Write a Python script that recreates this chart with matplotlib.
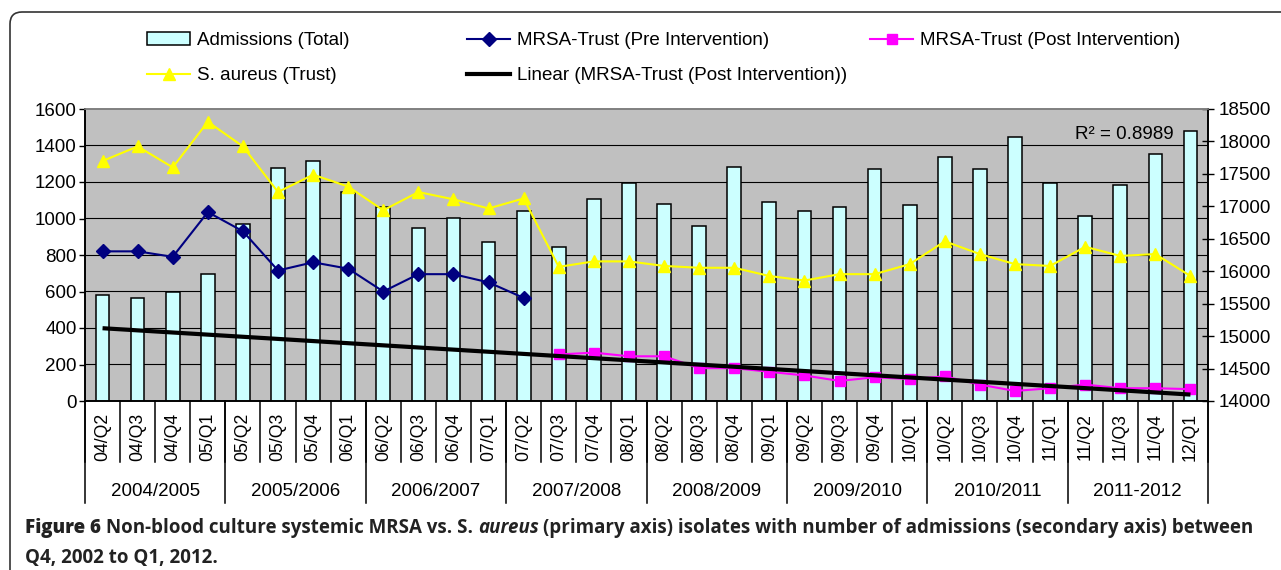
import numpy as np
import matplotlib
matplotlib.use("Agg")
import matplotlib.pyplot as plt
from matplotlib.lines import Line2D
from matplotlib.patches import Patch, FancyBboxPatch

# data
quarters = ["04/Q2", "04/Q3", "04/Q4", "05/Q1", "05/Q2", "05/Q3", "05/Q4", "06/Q1",
            "06/Q2", "06/Q3", "06/Q4", "07/Q1", "07/Q2", "07/Q3", "07/Q4", "08/Q1",
            "08/Q2", "08/Q3", "08/Q4", "09/Q1", "09/Q2", "09/Q3", "09/Q4", "10/Q1",
            "10/Q2", "10/Q3", "10/Q4", "11/Q1", "11/Q2", "11/Q3", "11/Q4", "12/Q1"]
years = ["2004/2005", "2005/2006", "2006/2007", "2007/2008",
         "2008/2009", "2009/2010", "2010/2011", "2011-2012"]

admissions = [15630, 15585, 15685, 15950, 16725, 17595, 17700, 17225,
              16985, 16670, 16825, 16455, 16935, 16380, 17120, 17355,
              17040, 16695, 17600, 17065, 16935, 16985, 17570, 17015,
              17755, 17570, 18075, 17355, 16855, 17335, 17810, 18155]
s_aureus = [1315, 1395, 1280, 1530, 1395, 1145, 1240, 1175,
            1045, 1145, 1105, 1055, 1110, 735, 765, 765,
            740, 730, 730, 685, 660, 695, 695, 750,
            875, 805, 750, 740, 845, 795, 805, 685]
mrsa_pre = [820, 820, 790, 1035, 930, 715, 760, 725, 600, 695, 695, 650, 565]
mrsa_post = [255, 265, 245, 245, 180, 180, 160, 140, 110, 130,
             120, 135, 90, 55, 70, 90, 70, 70, 65]
r2_text = "R² = 0.8989"

plt.rcParams['font.family'] = ['Liberation Sans', 'DejaVu Sans']

W, H = 1281, 570
fig = plt.figure(figsize=(W / 100, H / 100), dpi=100)

x = np.arange(len(quarters))
pre = np.full(len(quarters), np.nan)
pre[:len(mrsa_pre)] = mrsa_pre
post = np.full(len(quarters), np.nan)
post[len(quarters) - len(mrsa_post):] = mrsa_post
xp = x[len(quarters) - len(mrsa_post):]
coef = np.polyfit(xp, mrsa_post, 1)
trend = np.polyval(coef, x)

ax = fig.add_axes([85 / W, 1 - 401 / H, 1123 / W, 292 / H])
ax2 = ax.twinx()
ax.set_zorder(3)
ax.patch.set_visible(False)
ax2.patch.set_visible(True)
ax2.set_facecolor('#C0C0C0')

ax.set_ylim(0, 1600)
ax2.set_ylim(14000, 18500)
ax.set_xlim(-0.5, len(quarters) - 0.5)

# gridlines follow the primary axis ticks
left_ticks = np.arange(0, 1601, 200)
for t in left_ticks[1:-1]:
    ax2.axhline(14000 + t / 1600 * 4500, color='black', lw=0.8, zorder=1)

ax2.bar(x, admissions, width=0.39, color='#CCFFFF', edgecolor='black', linewidth=1.1, zorder=2)

ax.plot(x, s_aureus, color='#FFFF00', lw=1.5, marker='^', ms=9, mfc='#FFFF00', mec='#FFFF00', zorder=3)
ax.plot(x, pre, color='#000080', lw=1.5, marker='D', ms=7, mfc='#000080', mec='#000080', zorder=3)
ax.plot(x, post, color='#FF00FF', lw=1.5, marker='s', ms=7.5, mfc='#FF00FF', mec='#FF00FF', zorder=3)
ax.plot(x, trend, color='black', lw=3, zorder=4, solid_capstyle='butt')

ax.text(0.969, 0.914, r2_text, transform=ax.transAxes, ha='right', va='center', fontsize=13.5)

ax.set_yticks(left_ticks)
ax.tick_params(axis='y', direction='out', length=4, width=1, labelsize=13.5, pad=2)
ax2.set_yticks(np.arange(14000, 18501, 500))
ax2.tick_params(axis='y', direction='inout', length=8, width=1, labelsize=13.5, pad=4)

ax.set_xticks(x, quarters, rotation=90, fontsize=12.7)
ax.tick_params(axis='x', length=0, pad=8.5)

for a in (ax, ax2):
    for s in ('left', 'right', 'bottom'):
        a.spines[s].set_color('black')
        a.spines[s].set_linewidth(1.2)
    a.spines['top'].set_color('#808080')
    a.spines['top'].set_linewidth(1.2)

trans = ax.get_xaxis_transform()
for b in np.arange(-0.5, len(quarters), 1):
    ax.plot([b, b], [0, -0.209], transform=trans, clip_on=False, color='black', lw=1.1)
for b in np.arange(-0.5, len(quarters), 4):
    ax.plot([b, b], [0, -0.349], transform=trans, clip_on=False, color='black', lw=1.1)
for i, yl in enumerate(years):
    ax.text(4 * i + 1.5, -0.311, yl, transform=trans, ha='center', va='center', fontsize=13.5)

# legend, three columns placed like the original
h_adm = Patch(facecolor='#CCFFFF', edgecolor='black', lw=1.1)
h_sa = Line2D([], [], color='#FFFF00', lw=1.5, marker='^', ms=9, mfc='#FFFF00', mec='#FFFF00')
h_pre = Line2D([], [], color='#000080', lw=1.5, marker='D', ms=7, mfc='#000080', mec='#000080')
h_post = Line2D([], [], color='#FF00FF', lw=1.5, marker='s', ms=7.5, mfc='#FF00FF', mec='#FF00FF')
h_lin = Line2D([], [], color='black', lw=3)
cols = [([h_adm, h_sa], ["Admissions (Total)", "S. aureus (Trust)"], 147),
        ([h_pre, h_lin], ["MRSA-Trust (Pre Intervention)", "Linear (MRSA-Trust (Post Intervention))"], 467),
        ([h_post], ["MRSA-Trust (Post Intervention)"], 870)]
for hs, ls, xpx in cols:
    fig.legend(hs, ls, loc='upper left', bbox_to_anchor=(xpx / W, 1 - 32 / H), frameon=False,
               fontsize=13.5, handlelength=2.3, handletextpad=0.35, labelspacing=0.95,
               borderpad=0, borderaxespad=0)

# outer frame with rounded corner
frame = FancyBboxPatch((10, -30), 1400, H - 12 + 30, boxstyle='round,pad=0,rounding_size=12',
                       transform=None, fill=False, ec='#333333', lw=1.2)
fig.add_artist(frame)

# caption
fs = 13.5
cap = dict(family=['Open Sans', 'DejaVu Sans'], fontsize=fs, color='#222222', va='center', ha='left')
renderer = fig.canvas.get_renderer()
gap = 0.26 * fs * 100 / 72


def caption_line(xpx, ypx, runs):
    for txt, kw in runs:
        t = fig.text(xpx / W, 1 - ypx / H, txt, **cap, **kw)
        xpx = t.get_window_extent(renderer).x1 + gap


caption_line(25, 528, [("Figure 6", dict(weight='heavy')),
                       ("Non-blood culture systemic MRSA vs. S.", dict(weight='bold')),
                       ("aureus", dict(weight='bold', style='italic')),
                       ("(primary axis) isolates with number of admissions (secondary axis) between", dict(weight='bold'))])
caption_line(25, 558, [("Q4, 2002 to Q1, 2012.", dict(weight='bold'))])

fig.savefig('out.png', dpi=100)
